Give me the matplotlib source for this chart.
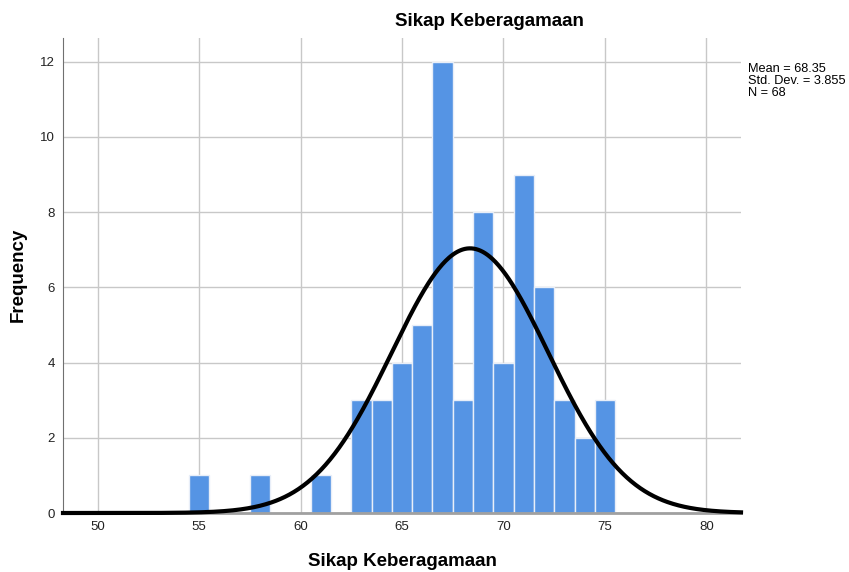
import numpy as np
import matplotlib
matplotlib.use("Agg")
import matplotlib.pyplot as plt

plt.rcParams['font.family'] = ['Liberation Sans', 'DejaVu Sans']

# Data
scores = [55, 58, 61, 63, 64, 65, 66, 67, 68, 69, 70, 71, 72, 73, 74, 75]
freqs = [1, 1, 1, 3, 3, 4, 5, 12, 3, 8, 4, 9, 6, 3, 2, 3]
mean = 68.35
std = 3.855
n = 68
xticks = [50, 55, 60, 65, 70, 75, 80]
yticks = [0, 2, 4, 6, 8, 10, 12]

fig = plt.figure(figsize=(8.49, 5.72), dpi=100)
ax = fig.add_axes([63/849, 1-513/572, (741-63)/849, (513-38)/572])

ax.set_xlim(48.3, 81.7)
ax.set_ylim(0, 12.63)

ax.set_xticks(xticks)
ax.set_yticks(yticks)
ax.grid(True, color='#c8c8c8', linewidth=1.0)
ax.set_axisbelow(True)

ax.bar(scores, freqs, width=1.0, color='#5594e4', edgecolor='#e8eef8', linewidth=1.0, zorder=2)

xs = np.linspace(48.3, 81.7, 600)
ys = n * 1.0 / (std * np.sqrt(2*np.pi)) * np.exp(-0.5*((xs-mean)/std)**2)
ax.plot(xs, ys, color='black', linewidth=3, zorder=3, clip_on=False)

for s in ['top', 'right']:
    ax.spines[s].set_visible(False)
ax.spines['left'].set_color('#707070')
ax.spines['bottom'].set_color('#a0a0a0')
ax.spines['bottom'].set_linewidth(2)
ax.tick_params(length=0, labelsize=9.5, pad=6, colors='#222222')

fig.text(489/849, 1-22/572, 'Sikap Keberagamaan', fontsize=13.5, fontweight='bold',
         ha='center', va='center')
fig.text(402/849, 1-561/572, 'Sikap Keberagamaan', fontsize=13.5, fontweight='bold',
         ha='center', va='center')
fig.text(18/849, 1-275/572, 'Frequency', fontsize=13.5, fontweight='bold',
         ha='center', va='center', rotation=90)

fig.text(748/849, 1-63/572, 'Mean = 68.35\nStd. Dev. = 3.855\nN = 68',
         fontsize=9.2, va='top', ha='left', linespacing=1.0)

fig.savefig('out.png', dpi=100)
